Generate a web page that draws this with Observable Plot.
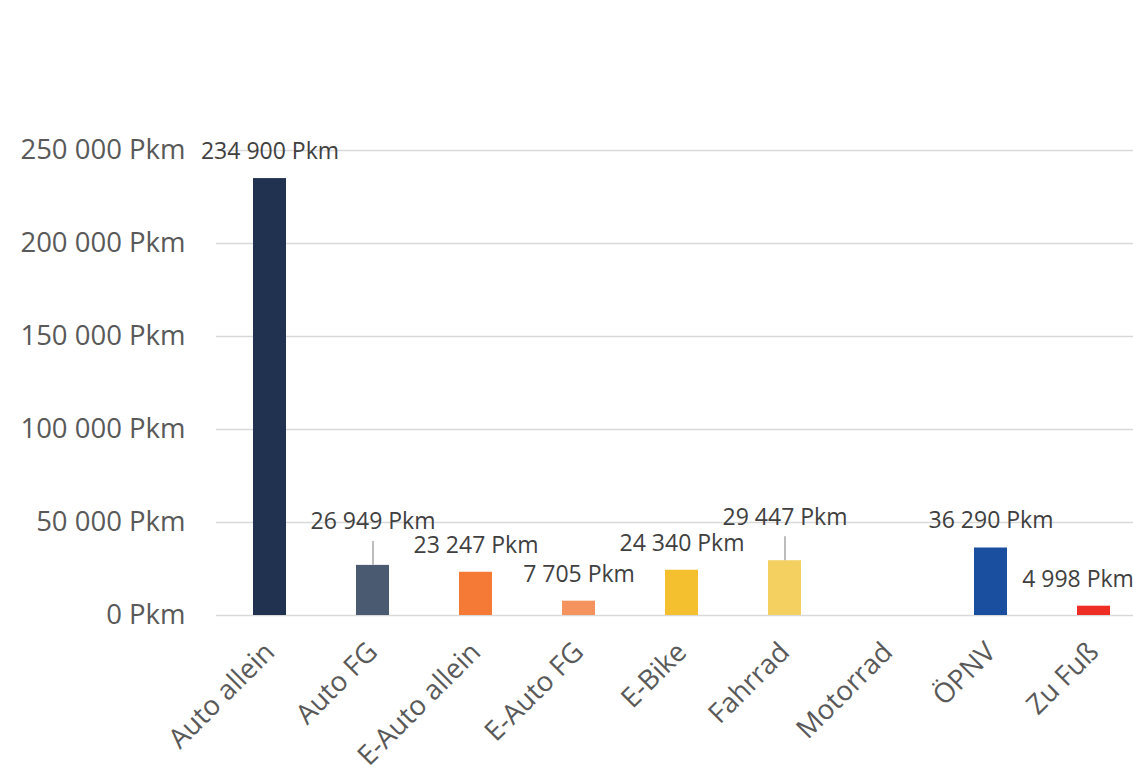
<!DOCTYPE html>
<html>
<head>
<meta charset="utf-8">
<script src="https://cdn.jsdelivr.net/npm/d3@7"></script>
<script src="https://cdn.jsdelivr.net/npm/@observablehq/plot@0.6"></script>
<style>
  html, body { margin: 0; padding: 0; background: #fff; }
  #chart svg { display: block; }
</style>
</head>
<body>
<div id="chart"></div>
<script>
// ---- data ----
const categories = ["Auto allein", "Auto FG", "E-Auto allein", "E-Auto FG", "E-Bike", "Fahrrad", "Motorrad", "ÖPNV", "Zu Fuß"];
const values = [234900, 26949, 23247, 7705, 24340, 29447, 0, 36290, 4998];
const colors = ["#203250", "#4a5a70", "#f47a36", "#f4935e", "#f4c030", "#f4d060", "#7f7f7f", "#1a4e9f", "#ee2e24"];
const yTicks = [0, 50000, 100000, 150000, 200000, 250000];

// ---- layout (label placement) ----
const labelDy = {"Auto FG": -44, "Fahrrad": -43};
const labelDx = {"Zu Fuß": -16};
const leaders = ["Auto FG", "Fahrrad"];

const locale = d3.formatLocale({decimal: ",", thousands: " ", grouping: [3], currency: ["", " €"]});
const fmt = v => locale.format(",.0f")(v) + " Pkm";

const data = categories.map((c, i) => ({cat: c, value: values[i], color: colors[i]}));
const labeled = data.filter(d => d.value > 0);

const textMarks = labeled.map(d => Plot.text([d], {
  x: "cat", y: "value", text: d => fmt(d.value),
  dy: labelDy[d.cat] ?? -27, dx: labelDx[d.cat] ?? 0,
  fill: "#404040", fontSize: 23, lineAnchor: "middle"
}));

const chart = Plot.plot({
  width: 1133,
  height: 773,
  marginTop: 150,
  marginBottom: 158,
  marginLeft: 216,
  marginRight: 0,
  style: {fontFamily: "'Open Sans', sans-serif", background: "#fff", overflow: "hidden"},
  x: {domain: categories, range: [216, 1146], paddingInner: 0.68, paddingOuter: 0.34, label: null},
  y: {domain: [0, 250000], label: null},
  color: {domain: categories, range: colors},
  marks: [
    Plot.ruleY(yTicks, {stroke: "#d9d9d9", strokeWidth: 1.5}),
    Plot.barY(data, {x: "cat", y: "value", fill: "cat"}),
    Plot.ruleX(data.filter(d => leaders.includes(d.cat)), {x: "cat", y1: "value", y2: d => d.value + 12900, stroke: "#a6a6a6", strokeWidth: 1.5}),
    ...textMarks,
    Plot.axisY({ticks: yTicks, tickSize: 0, tickPadding: 31, tickFormat: fmt, fontSize: 27.5, fill: "#595959", color: "#595959"}),
    Plot.axisX({tickSize: 0, tickRotate: -45, tickPadding: 32, fontSize: 27.5, color: "#595959"})
  ]
});
document.getElementById("chart").appendChild(chart);
</script>
</body>
</html>
